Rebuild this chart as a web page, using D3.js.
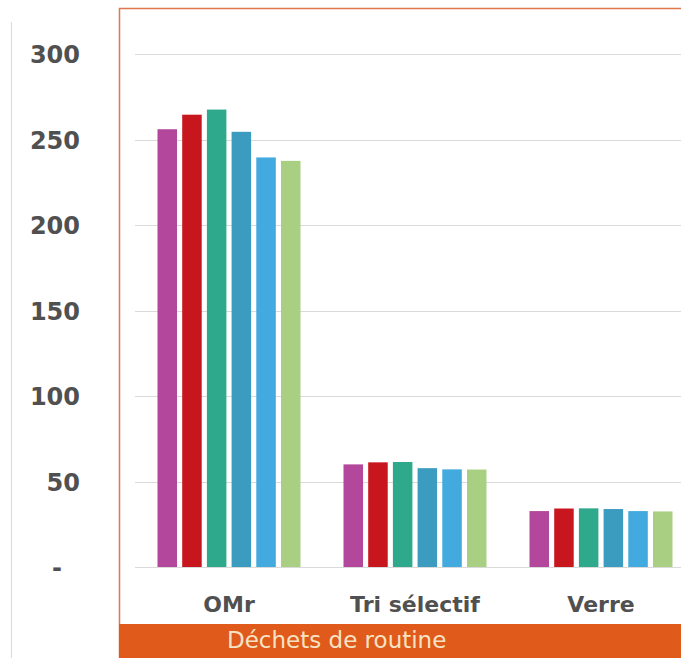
<!DOCTYPE html>
<html>
<head>
<meta charset="utf-8">
<script src="https://cdn.jsdelivr.net/npm/d3@7"></script>
<style>
  html, body { margin: 0; padding: 0; background: #fff; overflow: hidden; }
  svg { display: block; }
</style>
</head>
<body>
<svg id="chart"></svg>
<script>
// Data
const categories = ["OMr", "Tri sélectif", "Verre"];
const series = ["s1", "s2", "s3", "s4", "s5", "s6"];
const colors = ["#b2479c", "#c8161e", "#2fa98c", "#3c9cc0", "#42aadf", "#a9cf82"];
const omrValues = [256, 264.5, 267.5, 254.5, 239.5, 237.5];
const triValues = [60, 61.2, 61.4, 57.8, 57.1, 57];
const verreValues = [32.7, 34.2, 34.3, 33.9, 32.7, 32.5];
const yTicks = [0, 50, 100, 150, 200, 250, 300];
const bannerLabel = "Déchets de routine";

const rows = [omrValues, triValues, verreValues];

const width = 681;
const height = 658;

const svg = d3.select("#chart").attr("width", width).attr("height", height);

// Scales
const y = d3.scaleLinear().domain([0, 300]).range([567, 54]);
const x0 = d3.scaleBand().domain(categories).range([136, 694]).padding(0);
const groupW = 143;
const x1 = d3.scaleBand().domain(series).range([0, groupW]).paddingInner(0.21).paddingOuter(0);

// thin grey line at far left
svg.append("line")
  .attr("x1", 11.5).attr("x2", 11.5)
  .attr("y1", 22).attr("y2", height)
  .attr("stroke", "#dcdcdc").attr("stroke-width", 1.2);

// orange framed box
svg.append("rect")
  .attr("x", 119.5).attr("y", 8.5)
  .attr("width", 700).attr("height", 700)
  .attr("fill", "none")
  .attr("stroke", "#e0764a").attr("stroke-width", 1.5);

// gridlines
svg.append("g")
  .selectAll("line")
  .data(yTicks)
  .join("line")
  .attr("x1", 135).attr("x2", width)
  .attr("y1", (d) => Math.round(y(d)) + 0.5)
  .attr("y2", (d) => Math.round(y(d)) + 0.5)
  .attr("stroke", "#dadada").attr("stroke-width", 1.2);

// y labels ("-" for zero sits a bit left, accounting style)
const yAxis = d3.axisLeft(y)
  .tickValues(yTicks)
  .tickSize(0)
  .tickPadding(0)
  .tickFormat((d) => (d === 0 ? "-" : d));

const yg = svg.append("g").attr("transform", "translate(80,0)").call(yAxis);
yg.select(".domain").remove();
yg.selectAll("text")
  .attr("font-family", "'DejaVu Sans', sans-serif")
  .attr("font-weight", "bold")
  .attr("font-size", 24)
  .attr("fill", "#505050")
  .attr("dy", "0.36em")
  .attr("x", (d) => (d === 0 ? -18 : 0));

// bars
const groups = svg.append("g")
  .selectAll("g")
  .data(categories)
  .join("g")
  .attr("transform", (d) => `translate(${x0(d) + (x0.bandwidth() - groupW) / 2},0)`);

groups.selectAll("rect")
  .data((d, i) => rows[i].map((v, j) => ({ key: series[j], value: v, color: colors[j] })))
  .join("rect")
  .attr("x", (d) => x1(d.key))
  .attr("width", x1.bandwidth())
  .attr("y", (d) => y(d.value))
  .attr("height", (d) => y(0) - y(d.value))
  .attr("fill", (d) => d.color);

// category labels
const xAxis = d3.axisBottom(x0).tickSize(0).tickPadding(0);
const xg = svg.append("g").attr("transform", "translate(0,612)").call(xAxis);
xg.select(".domain").remove();
xg.selectAll("text")
  .attr("font-family", "'DejaVu Sans', sans-serif")
  .attr("font-weight", "bold")
  .attr("font-size", 22)
  .attr("fill", "#505050")
  .attr("dy", 0);

// orange banner at bottom
svg.append("rect")
  .attr("x", 119).attr("y", 624)
  .attr("width", width - 119).attr("height", height - 624)
  .attr("fill", "#df5a1b");

svg.append("text")
  .attr("x", 227).attr("y", 648)
  .attr("font-family", "'DejaVu Sans', sans-serif")
  .attr("font-size", 23)
  .attr("fill", "#f6e3c4")
  .text(bannerLabel);
</script>
</body>
</html>
